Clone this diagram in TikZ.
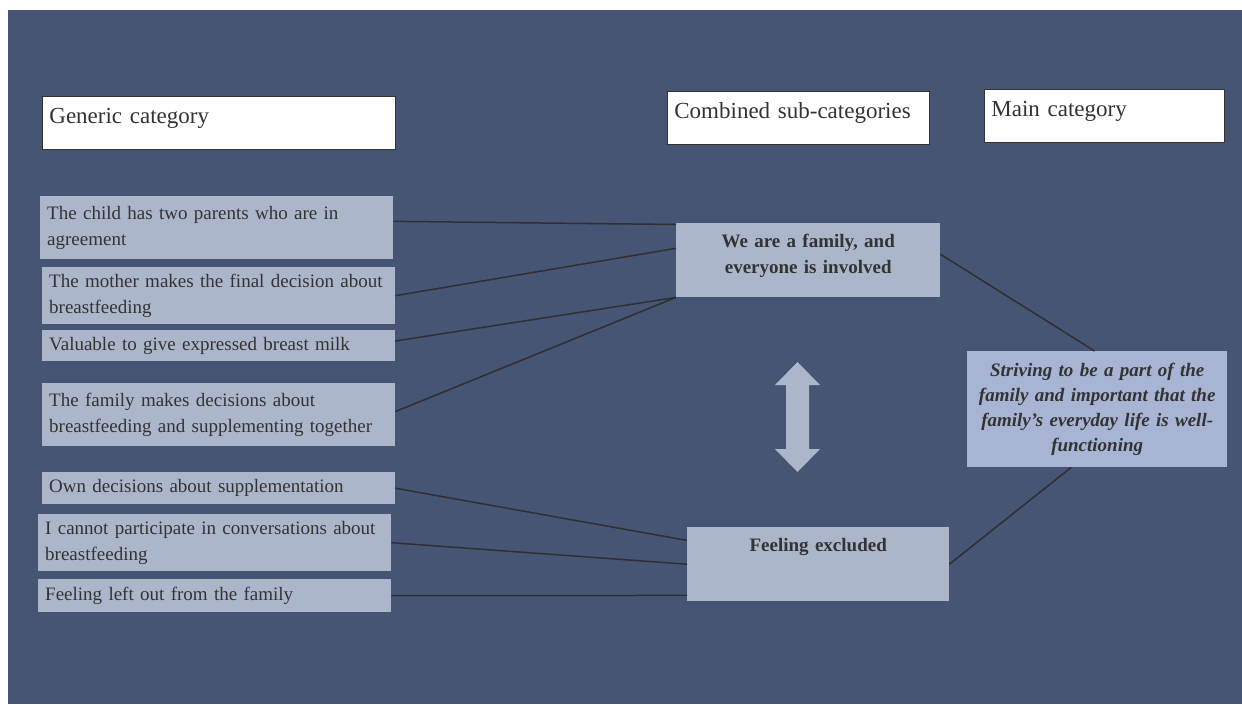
\documentclass[tikz,border=0pt]{standalone}
\usepackage{fontspec}
\setmainfont{Liberation Serif}
\usepackage{tikz}
\usetikzlibrary{calc}
\definecolor{bgblue}{HTML}{465573}
\definecolor{boxfill}{HTML}{ACB6CB}
\definecolor{mainfill}{HTML}{A8B4D4}
\definecolor{textgray}{HTML}{333333}
\definecolor{linegray}{HTML}{2F2F33}

\begin{document}
\begin{tikzpicture}[x=1pt,y=-1pt,
  headbox/.style={draw=textgray,line width=0.8pt,fill=white,anchor=north west,inner xsep=7pt,inner ysep=0pt,
    align=left,text height=27pt,text depth=26pt,text=textgray,font=\fontsize{23}{28}\selectfont},
  itembox/.style={fill=boxfill,anchor=north west,inner xsep=7pt,inner ysep=0pt,text width=339pt,
    align=left,text=textgray,font=\fontsize{19}{26}\selectfont},
  subbox/.style={fill=boxfill,anchor=north west,inner sep=0pt,align=center,text height=24pt,text depth=50pt,
    text=textgray,font=\bfseries\fontsize{19}{26.5}\selectfont},
  mainbox/.style={fill=mainfill,anchor=north west,inner sep=0pt,align=center,text width=260pt,minimum height=116pt,
    text=textgray,font=\bfseries\itshape\fontsize{19}{25}\selectfont},
  link/.style={draw=linegray,line width=1.5pt}]
  \useasboundingbox (0,0) rectangle (1242,704);
  \fill[bgblue] (8,10) rectangle (1242,704);

  % headings
  \node[headbox,text width=339pt] (hGeneric) at (42,96) {Generic category};
  \node[headbox,text width=248pt] (hCombined) at (667,91) {Combined sub-categories};
  \node[headbox,text width=226pt] (hMain) at (984,89) {Main category};

  % generic categories
  \node[itembox,minimum height=63pt] (child) at (40,196) {The child has two parents who are in\\agreement};
  \node[itembox,minimum height=57pt] (mother) at (42,267) {The mother makes the final decision about\\breastfeeding};
  \node[itembox,minimum height=31pt] (milk) at (42,330) {Valuable to give expressed breast milk};
  \node[itembox,minimum height=63pt] (together) at (42,383) {The family makes decisions about\\breastfeeding and supplementing together};
  \node[itembox,minimum height=32pt] (ownDec) at (42,472) {Own decisions about supplementation};
  \node[itembox,minimum height=57pt] (convo) at (38,514) {I cannot participate in conversations about\\breastfeeding};
  \node[itembox,minimum height=33pt] (leftOut) at (38,579) {Feeling left out from the family};

  % sub-categories and main category
  \node[subbox,text width=264pt] (family) at (676,223) {We are a family, and\\everyone is involved};
  \node[subbox,text width=262pt] (excluded) at (687,527) {Feeling excluded};
  \node[mainbox] (striving) at (967,351) {Striving to be a part of the\\family and important that the\\family’s everyday life is well-\\functioning};

  % double arrow
  \coordinate (swap) at (797.5,416.5);
  \fill[boxfill,shift={(swap)}] (0,-54.5) -- (22.5,-31.5) -- (11.5,-31.5) -- (11.5,32.5) -- (22.5,32.5)
    -- (0,55.5) -- (-22.5,32.5) -- (-11.5,32.5) -- (-11.5,-31.5) -- (-22.5,-31.5) -- cycle;

  % connectors
  \draw[link] ($(child.north east)!0.4!(child.south east)$) -- ($(family.north west)!0.02!(family.south west)$);
  \draw[link] (mother.east) -- ($(family.north west)!0.34!(family.south west)$);
  \draw[link] ($(milk.north east)!0.35!(milk.south east)$) -- (family.south west);
  \draw[link] ($(together.north east)!0.45!(together.south east)$) -- (family.south west);
  \draw[link] ($(family.north east)!0.42!(family.south east)$) -- ($(striving.north west)!0.49!(striving.north east)$);
  \draw[link] (ownDec.east) -- ($(excluded.north west)!0.18!(excluded.south west)$);
  \draw[link] (convo.east) -- (excluded.west);
  \draw[link] (leftOut.east) -- ($(excluded.north west)!0.92!(excluded.south west)$);
  \draw[link] (excluded.east) -- ($(striving.south west)!0.4!(striving.south east)$);
\end{tikzpicture}
\end{document}
